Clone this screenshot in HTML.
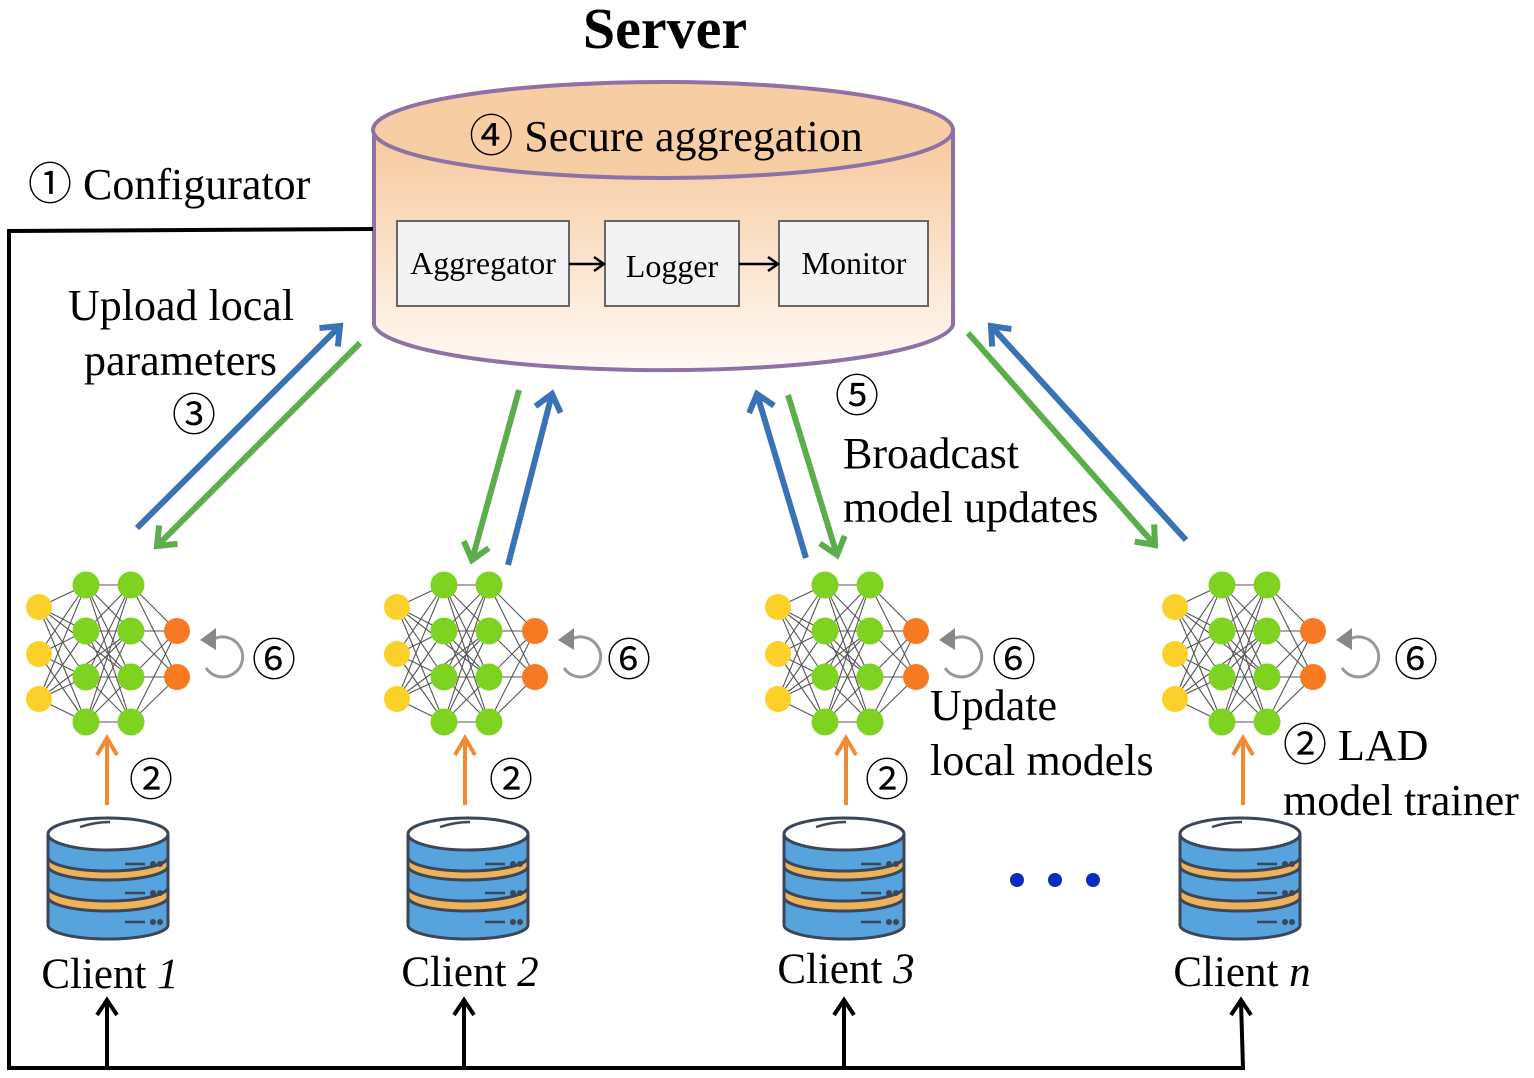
<!DOCTYPE html>
<html><head><meta charset="utf-8"><style>
html,body{margin:0;padding:0;background:#fff;}
svg{display:block;}
text{font-family:"Liberation Serif","DejaVu Serif",serif;fill:#000;}
text.c,tspan.c{font-family:"Noto Sans CJK JP","DejaVu Sans",sans-serif;font-weight:400;}
</style></head><body>
<svg width="1534" height="1078" viewBox="0 0 1534 1078" xmlns="http://www.w3.org/2000/svg">
<defs>
<linearGradient id="cyl" x1="0" y1="0" x2="0" y2="1">
<stop offset="0" stop-color="#f6c89c"/><stop offset="1" stop-color="#fffaf5"/>
</linearGradient>
<g id="nn">
<g stroke="#555" stroke-width="1.1">
<path d="M39 607L86 585M39 607L86 631M39 607L86 677M39 607L86 722M39 654L86 585M39 654L86 631M39 654L86 677M39 654L86 722M39 699L86 585M39 699L86 631M39 699L86 677M39 699L86 722"/>
<path d="M86 585L131 585M86 585L131 631M86 585L131 677M86 585L131 722M86 631L131 585M86 631L131 631M86 631L131 677M86 631L131 722M86 677L131 585M86 677L131 631M86 677L131 677M86 677L131 722M86 722L131 585M86 722L131 631M86 722L131 677M86 722L131 722"/>
<path d="M131 585L177 631M131 585L177 677M131 631L177 631M131 631L177 677M131 677L177 631M131 677L177 677M131 722L177 631M131 722L177 677M39 607L131 677M39 699L131 631"/>
</g>
<g fill="#fcd12a"><circle cx="39" cy="607" r="13"/><circle cx="39" cy="654" r="13"/><circle cx="39" cy="699" r="13"/></g>
<g fill="#7ed321"><circle cx="86" cy="585" r="13.5"/><circle cx="86" cy="631" r="13.5"/><circle cx="86" cy="677" r="13.5"/><circle cx="86" cy="722" r="13.5"/>
<circle cx="131" cy="585" r="13.5"/><circle cx="131" cy="631" r="13.5"/><circle cx="131" cy="677" r="13.5"/><circle cx="131" cy="722" r="13.5"/></g>
<g fill="#f77a23"><circle cx="177" cy="631" r="13"/><circle cx="177" cy="677" r="13"/></g>
<path d="M212 640 A20 20 0 1 1 206 668" fill="none" stroke="#999" stroke-width="3"/>
<path d="M200 640 L216 628 L216 650 Z" fill="#888"/>
<path d="M107 805 L107 740 M97 755 L107 738 L117 755" fill="none" stroke="#f08a33" stroke-width="4"/>
</g>
<g id="db" stroke="#3b4656" stroke-width="3">
<path d="M48 897 L48 925 A60 14 0 0 0 168 925 L168 897 Z" fill="#56a3dd"/>
<path d="M48 885 L48 897 A60 14 0 0 0 168 897 L168 885 Z" fill="#eeb25c"/>
<path d="M48 866 L48 887 A60 14 0 0 0 168 887 L168 866 Z" fill="#56a3dd"/>
<path d="M48 855 L48 866 A60 14 0 0 0 168 866 L168 855 Z" fill="#eeb25c"/>
<path d="M48 835 L48 857 A60 14 0 0 0 168 857 L168 835 Z" fill="#56a3dd"/>
<ellipse cx="108" cy="834" rx="60" ry="16" fill="#fff"/>
<path d="M125 864h20M125 893h20M125 922h20" stroke-width="2.5"/>
<circle cx="153" cy="864" r="1.5"/><circle cx="160" cy="864" r="1.5"/>
<circle cx="153" cy="893" r="1.5"/><circle cx="160" cy="893" r="1.5"/>
<circle cx="153" cy="922" r="1.5"/><circle cx="160" cy="922" r="1.5"/>
<path d="M80 827 Q95 822 110 822" fill="none" stroke-width="2.5"/>
</g>
<marker id="hb" markerUnits="userSpaceOnUse" markerWidth="40" markerHeight="40" refX="0" refY="0" orient="auto" overflow="visible">
<path d="M-16 -13 L0 0 L-16 13" fill="none" stroke="#3a72b8" stroke-width="6"/></marker>
<marker id="hg" markerUnits="userSpaceOnUse" markerWidth="40" markerHeight="40" refX="0" refY="0" orient="auto" overflow="visible">
<path d="M-16 -13 L0 0 L-16 13" fill="none" stroke="#5cad4c" stroke-width="6"/></marker>
</defs>

<text x="665" y="48" font-size="58" font-weight="bold" text-anchor="middle">Server</text>

<path d="M374 130 L374 325 A290 48 0 0 0 953 325 L953 130 Z" fill="url(#cyl)" stroke="#8e72a6" stroke-width="4"/>
<ellipse cx="663" cy="130" rx="290" ry="48" fill="#f7cda3" stroke="#8e72a6" stroke-width="4"/>
<text x="666" y="151" font-size="44" text-anchor="middle"><tspan class="c">④</tspan> Secure aggregation</text>
<g fill="#f3f3f3" stroke="#666" stroke-width="2">
<rect x="397" y="221" width="172" height="85"/><rect x="605" y="221" width="134" height="85"/><rect x="779" y="221" width="149" height="85"/></g>
<g font-size="32" text-anchor="middle">
<text x="483" y="274">Aggregator</text><text x="672" y="277">Logger</text><text x="854" y="274">Monitor</text></g>
<path d="M569 264H603M594 257L604 264L594 271M739 264H777M768 257L778 264L768 271" fill="none" stroke="#000" stroke-width="2.5"/>

<path d="M373 229 L9 231 L9 1068 L1245 1068" fill="none" stroke="#000" stroke-width="4"/>
<g stroke="#000" stroke-width="4" fill="none">
<path d="M107 1068V1002M97 1015L107 1000L117 1015"/>
<path d="M464 1068V1002M454 1015L464 1000L474 1015"/>
<path d="M844 1068V1002M834 1015L844 1000L854 1015"/>
<path d="M1243 1068L1241 1002M1231 1015L1241 1000L1251 1015"/>
</g>
<text x="28" y="199" font-size="44"><tspan class="c">①</tspan> Configurator</text>

<g stroke-width="6" fill="none">
<line x1="137" y1="528" x2="340" y2="326" stroke="#3a72b8" marker-end="url(#hb)"/>
<line x1="360" y1="343" x2="157" y2="546" stroke="#5cad4c" marker-end="url(#hg)"/>
<line x1="519" y1="390" x2="472" y2="560" stroke="#5cad4c" marker-end="url(#hg)"/>
<line x1="508" y1="565" x2="552" y2="394" stroke="#3a72b8" marker-end="url(#hb)"/>
<line x1="806" y1="558" x2="757" y2="394" stroke="#3a72b8" marker-end="url(#hb)"/>
<line x1="788" y1="395" x2="837" y2="555" stroke="#5cad4c" marker-end="url(#hg)"/>
<line x1="968" y1="333" x2="1155" y2="545" stroke="#5cad4c" marker-end="url(#hg)"/>
<line x1="1186" y1="540" x2="991" y2="326" stroke="#3a72b8" marker-end="url(#hb)"/>
</g>

<g font-size="44">
<text x="68" y="320">Upload local</text>
<text x="84" y="375">parameters</text>
<text x="172" y="430" class="c">③</text>
<text x="835" y="411" class="c">⑤</text>
<text x="843" y="468">Broadcast</text>
<text x="843" y="522">model updates</text>
<text x="930" y="720">Update</text>
<text x="930" y="775">local models</text>
<text x="1283" y="760"><tspan class="c">②</tspan> LAD</text>
<text x="1283" y="815">model trainer</text>
</g>

<use href="#nn"/><use href="#nn" x="358"/><use href="#nn" x="739"/><use href="#nn" x="1136"/>
<use href="#db"/><use href="#db" x="360"/><use href="#db" x="736"/><use href="#db" x="1132"/>

<g font-size="44">
<text class="c" x="252" y="675">⑥</text><text class="c" x="607" y="675">⑥</text><text class="c" x="992" y="675">⑥</text><text class="c" x="1394" y="675">⑥</text>
<text class="c" x="129" y="795">②</text><text class="c" x="489" y="795">②</text><text class="c" x="865" y="795">②</text>
</g>

<g fill="#0a2bbf"><circle cx="1017" cy="880" r="7"/><circle cx="1055" cy="880" r="7"/><circle cx="1093" cy="880" r="7"/></g>

<g font-size="43" text-anchor="middle">
<text x="110" y="988">Client <tspan font-style="italic">1</tspan></text>
<text x="470" y="986">Client <tspan font-style="italic">2</tspan></text>
<text x="846" y="983">Client <tspan font-style="italic">3</tspan></text>
<text x="1242" y="986">Client <tspan font-style="italic">n</tspan></text>
</g>
</svg>
</body></html>
